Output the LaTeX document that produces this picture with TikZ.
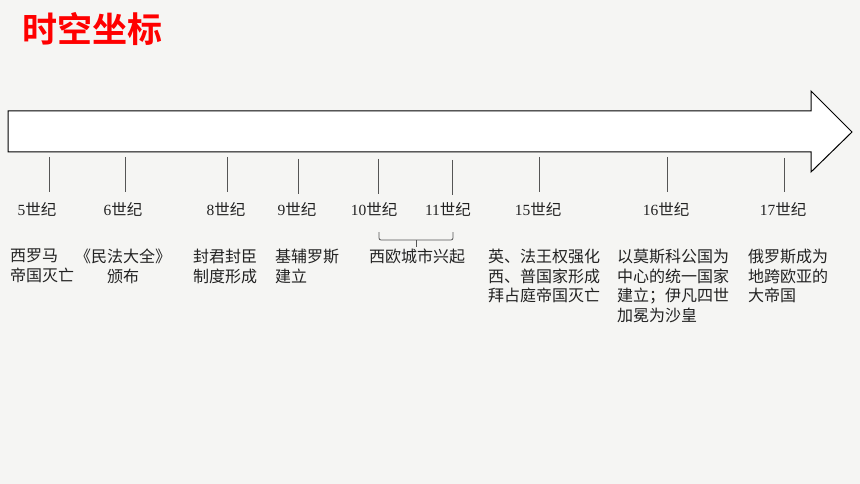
\documentclass[tikz,border=0pt]{standalone}
\usepackage{fontspec}
\setmainfont{Liberation Serif}
\newfontfamily\cjk{Noto Sans CJK SC}
\newfontfamily\cjkb{Noto Sans CJK SC Bold}
\definecolor{bg}{HTML}{F5F5F3}
\definecolor{txt}{HTML}{222222}
\definecolor{tick}{HTML}{555555}
\tikzset{
  tickline/.style={draw=tick, line width=0.8pt},
  century/.style={font=\fontsize{15.5}{18}\selectfont, text=txt, inner sep=0pt, anchor=center},
  event/.style={font=\cjk\fontsize{16}{19.5}\selectfont, text=txt, inner sep=0pt, anchor=north west, align=left},
}
\begin{document}
\begin{tikzpicture}[x=1pt,y=-1pt]
\useasboundingbox[fill=bg] (0,0) rectangle (860,484);
\node[font=\cjkb\fontsize{35}{38}\selectfont, text=red, inner sep=0pt, anchor=west] (title) at (22,29) {时空坐标};
% big arrow
\draw[fill=white, draw=black, line width=1pt] (8,111) -- (811,111) -- (811,91) -- (852,132) -- (811,172) -- (811,152) -- (8,152) -- cycle;
\node[inner sep=0pt] (arrow) at (430,132) {};
% ticks
\foreach \n/\x/\ya/\yb in {a/49/157/192, b/125/157/192, c/227/157/192, d/298/159/194, e/378/159/194, f/452/160/195, g/539/157/192, h/667/157/192, i/784/158/192}{
  \coordinate (t\n1) at (\x,\ya);
  \coordinate (t\n2) at (\x,\yb);
  \draw[tickline] (t\n1) -- (t\n2);
}
% century labels
\node[century] (c5) at (37,209) {5{\cjk 世纪}};
\node[century] (c6) at (123,209) {6{\cjk 世纪}};
\node[century] (c8) at (226,209) {8{\cjk 世纪}};
\node[century] (c9) at (297,209) {9{\cjk 世纪}};
\node[century] (c10) at (374,209) {10{\cjk 世纪}};
\node[century] (c11) at (448,209) {11{\cjk 世纪}};
\node[century] (c15) at (538,209) {15{\cjk 世纪}};
\node[century] (c16) at (666,209) {16{\cjk 世纪}};
\node[century] (c17) at (783,209) {17{\cjk 世纪}};
% bracket
\coordinate (bl) at (379,232);
\coordinate (br) at (453,232);
\coordinate (bm) at (416,247);
\coordinate (bj) at (416,240);
\draw[tickline, rounded corners=2pt] (bl) -- (379,240) -- (453,240) -- (br);
\draw[tickline] (bj) -- (bm);
% events
\node[event] (e1) at (10,249) {西罗马\\帝国灭亡};
\node[event, align=center, anchor=north] (e2) at (123,249) {《民法大全》\\颁布};
\node[event] (e3) at (193,249) {封君封臣\\制度形成};
\node[event] (e4) at (275,249) {基辅罗斯\\建立};
\node[event, anchor=north] (e5) at (417,249) {西欧城市兴起};
\node[event] (e6) at (488,249) {英、法王权强化\\西、普国家形成\\拜占庭帝国灭亡};
\node[event] (e7) at (617,249) {以莫斯科公国为\\中心的统一国家\\建立；伊凡四世\\加冕为沙皇};
\node[event] (e8) at (748,249) {俄罗斯成为\\地跨欧亚的\\大帝国};
\end{tikzpicture}
\end{document}
